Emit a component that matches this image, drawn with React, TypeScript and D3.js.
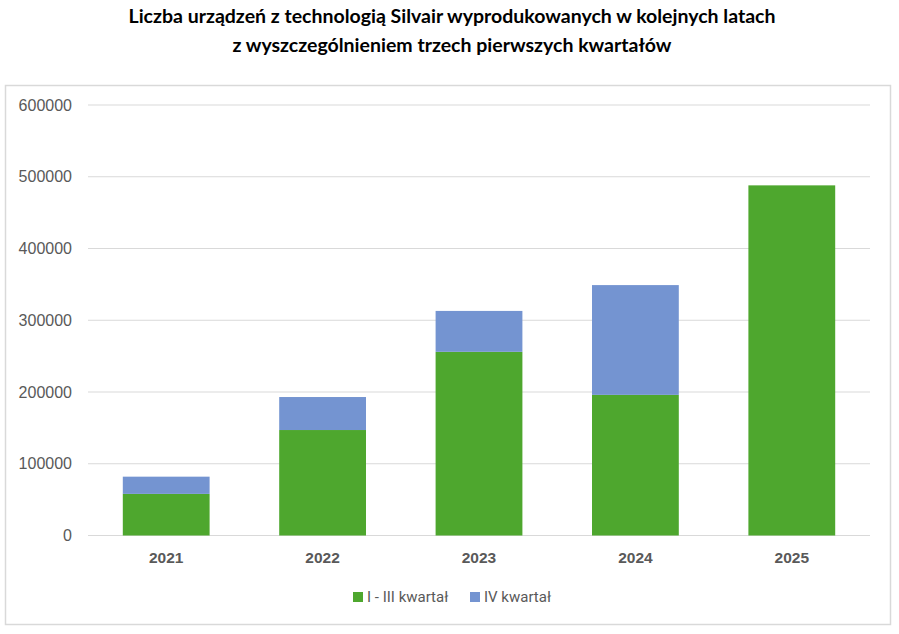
import React, { useRef, useEffect } from 'react';
import * as d3 from 'd3';

const years = ['2021', '2022', '2023', '2024', '2025'];
const q1to3 = [58000, 147000, 256000, 196000, 488000];
const q4 = [24000, 46000, 57000, 153000, 0];
const seriesNames = ['I - III kwartał', 'IV kwartał'];
const yTicks = [0, 100000, 200000, 300000, 400000, 500000, 600000];
const titleLines = [
  'Liczba urządzeń z technologią Silvair wyprodukowanych w kolejnych latach',
  'z wyszczególnieniem trzech pierwszych kwartałów',
];

const COLORS = ['#4EA72E', '#7494D1'];

const App: React.FC = () => {
  const svgRef = useRef<SVGSVGElement | null>(null);
  const width = 899;
  const height = 634;

  useEffect(() => {
    if (!svgRef.current) return;
    const svg = d3.select(svgRef.current);
    svg.selectAll('*').remove();

    svg.append('rect')
      .attr('width', width)
      .attr('height', height)
      .attr('fill', 'white');

    // Title
    titleLines.forEach((line, i) => {
      svg.append('text')
        .attr('x', 452)
        .attr('y', 23 + i * 29)
        .attr('text-anchor', 'middle')
        .attr('font-family', 'Lato, sans-serif')
        .attr('font-weight', 700)
        .attr('font-size', '19.5px')
        .attr('fill', '#000')
        .text(line);
    });

    // Chart frame
    svg.append('rect')
      .attr('x', 5.5)
      .attr('y', 85.5)
      .attr('width', 885)
      .attr('height', 539)
      .attr('fill', 'white')
      .attr('stroke', '#d9d9d9')
      .attr('stroke-width', 1.5);

    const margin = { top: 105, left: 88, right: 870, bottom: 535.5 };

    const x = d3.scaleBand<string>()
      .domain(years)
      .range([margin.left, margin.right])
      .paddingInner(0.445)
      .paddingOuter(0.2225);

    const y = d3.scaleLinear()
      .domain([0, 600000])
      .range([margin.bottom, margin.top]);

    // Grid
    svg.append('g')
      .selectAll('line')
      .data(yTicks)
      .enter()
      .append('line')
      .attr('x1', margin.left)
      .attr('x2', margin.right)
      .attr('y1', d => y(d))
      .attr('y2', d => y(d))
      .attr('stroke', '#d9d9d9')
      .attr('stroke-width', 1.2);

    // Y labels
    svg.append('g')
      .selectAll('text')
      .data(yTicks)
      .enter()
      .append('text')
      .attr('x', 72)
      .attr('y', d => y(d) + 5.5)
      .attr('text-anchor', 'end')
      .attr('font-family', '"Liberation Sans", Arial, sans-serif')
      .attr('font-size', '16px')
      .attr('fill', '#595959')
      .text(d => String(d));

    // Stacked bars
    const rows = years.map((yr, i) => ({ year: yr, a: q1to3[i], b: q4[i] }));
    const stack = d3.stack<{ year: string; a: number; b: number }>().keys(['a', 'b']);
    const layers = stack(rows);

    layers.forEach((layer, li) => {
      svg.append('g')
        .selectAll('rect')
        .data(layer.filter(d => d[1] - d[0] > 0))
        .enter()
        .append('rect')
        .attr('x', d => x(d.data.year)!)
        .attr('width', x.bandwidth())
        .attr('y', d => y(d[1]))
        .attr('height', d => y(d[0]) - y(d[1]))
        .attr('fill', COLORS[li]);
    });

    // X labels
    svg.append('g')
      .selectAll('text')
      .data(years)
      .enter()
      .append('text')
      .attr('x', d => x(d)! + x.bandwidth() / 2)
      .attr('y', 563)
      .attr('text-anchor', 'middle')
      .attr('font-family', '"Liberation Sans", Arial, sans-serif')
      .attr('font-weight', 700)
      .attr('font-size', '15.5px')
      .attr('fill', '#595959')
      .text(d => d);

    // Legend
    const legend = svg.append('g').attr('transform', 'translate(353, 592)');
    const offsets = [0, 117];
    seriesNames.forEach((name, i) => {
      legend.append('rect')
        .attr('x', offsets[i])
        .attr('y', 0)
        .attr('width', 10)
        .attr('height', 10)
        .attr('fill', COLORS[i]);
      legend.append('text')
        .attr('x', offsets[i] + 14)
        .attr('y', 10)
        .attr('font-family', 'Roboto, sans-serif')
        .attr('font-size', '15px')
        .attr('fill', '#595959')
        .text(name);
    });
  }, []);

  return (
    <>
      <style>{'body{margin:0}'}</style>
      <svg ref={svgRef} width={width} height={height} style={{ display: 'block' }} />
    </>
  );
};

export default App;
